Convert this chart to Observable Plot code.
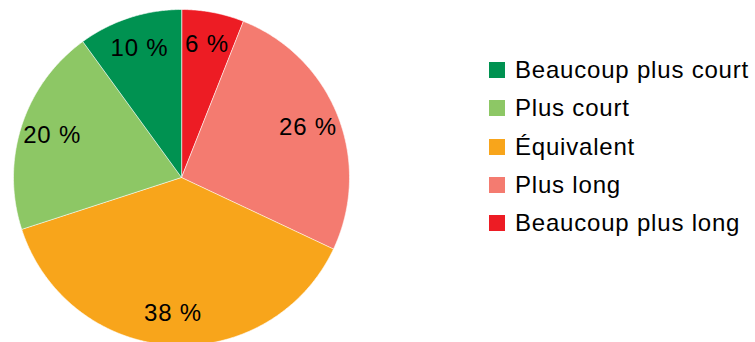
<!DOCTYPE html>
<html>
<head>
<meta charset="utf-8">
<script src="https://cdn.jsdelivr.net/npm/d3@7"></script>
<script src="https://cdn.jsdelivr.net/npm/@observablehq/plot@0.6"></script>
<style>
  html, body { margin: 0; padding: 0; background: #fff; }
  #wrap { position: relative; width: 755px; height: 342px; overflow: hidden; }
  #wrap svg text { letter-spacing: 0.8px; }
  #legend { position: absolute; left: 489px; top: 51px; font-family: "Liberation Sans", Arial, sans-serif; font-size: 24px; color: #000; letter-spacing: 0.8px; }
  .row { display: flex; align-items: center; height: 38.3px; white-space: nowrap; }
  .sw { width: 16px; height: 16px; margin-right: 10px; flex: none; }
</style>
</head>
<body>
<div id="wrap"></div>
<script>
const categories = ["Beaucoup plus court", "Plus court", "Équivalent", "Plus long", "Beaucoup plus long"];
const values = [10, 20, 38, 26, 6];
const labels = ["10 %", "20 %", "38 %", "26 %", "6 %"];
const colors = ["#009251", "#8dc765", "#f8a51b", "#f47b70", "#ed1c24"];
// slices drawn clockwise from 12 o'clock in reverse legend order
const pieOrder = ["Beaucoup plus long", "Plus long", "Équivalent", "Plus court", "Beaucoup plus court"];

const total = d3.sum(values);
const points = [];
const labelData = [];
let cum = 0;
for (const cat of pieOrder) {
  const i = categories.indexOf(cat);
  const a0 = cum / total * 2 * Math.PI;
  cum += values[i];
  const a1 = cum / total * 2 * Math.PI;
  points.push({cat, x: 0, y: 0});
  const n = Math.max(2, Math.ceil((a1 - a0) / (Math.PI / 360)));
  for (let k = 0; k <= n; k++) {
    const a = a0 + (a1 - a0) * k / n;
    points.push({cat, x: Math.sin(a), y: Math.cos(a)});
  }
  const am = (a0 + a1) / 2;
  const r = 0.81;
  labelData.push({cat, label: labels[i], x: r * Math.sin(am), y: r * Math.cos(am)});
}

const chart = Plot.plot({
  width: 755,
  height: 342,
  margin: 0,
  style: {fontFamily: "'Liberation Sans', Arial, sans-serif", background: "white"},
  x: {domain: [-1, 1], range: [13, 349], axis: null},
  y: {domain: [-1, 1], range: [345, 9], axis: null},
  color: {domain: categories, range: colors},
  marks: [
    Plot.line(points, {x: "x", y: "y", z: "cat", fill: "cat", stroke: "white", strokeWidth: 0.6, curve: "linear-closed"}),
    Plot.text(labelData, {x: "x", y: "y", text: "label", fontSize: 24, fill: "black"})
  ]
});
document.getElementById("wrap").appendChild(chart);

const color = chart.scale("color");
const legend = document.createElement("div");
legend.id = "legend";
for (const cat of categories) {
  const row = document.createElement("div");
  row.className = "row";
  const sw = document.createElement("span");
  sw.className = "sw";
  sw.style.background = color.apply(cat);
  const t = document.createElement("span");
  t.textContent = cat;
  row.appendChild(sw);
  row.appendChild(t);
  legend.appendChild(row);
}
document.getElementById("wrap").appendChild(legend);
</script>
</body>
</html>
